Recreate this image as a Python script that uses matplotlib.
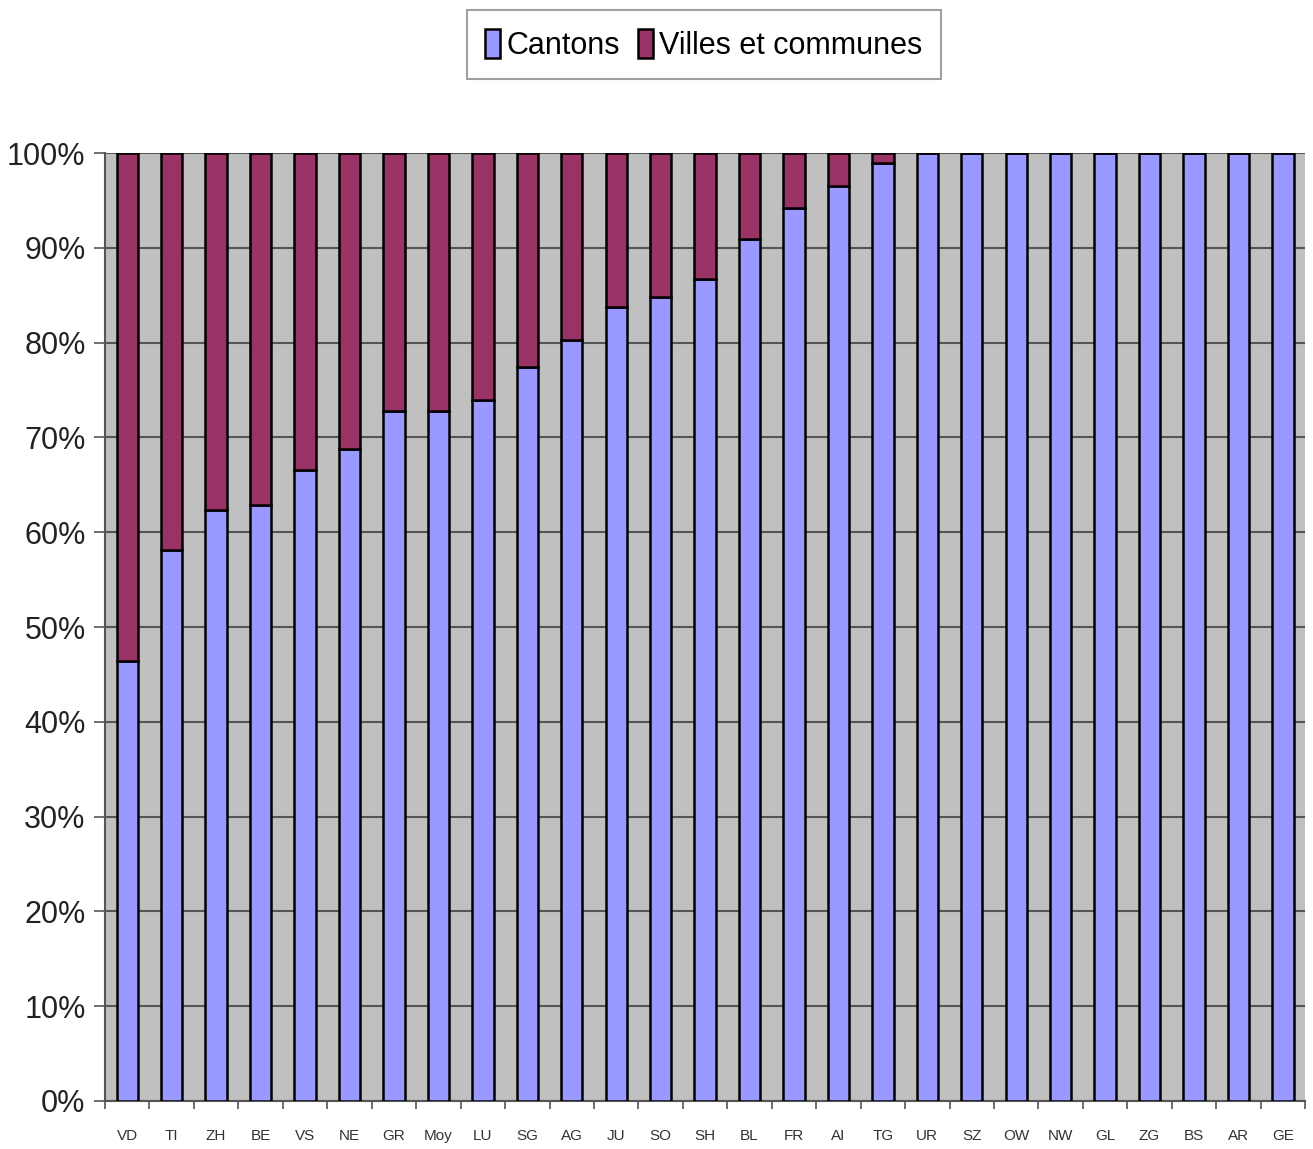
import matplotlib.pyplot as plt
import numpy as np

cantons = ['VD', 'TI', 'ZH', 'BE', 'VS', 'NE', 'GR', 'Moy', 'LU', 'SG', 'AG', 'JU', 'SO', 'SH',
           'BL', 'FR', 'AI', 'TG', 'UR', 'SZ', 'OW', 'NW', 'GL', 'ZG', 'BS', 'AR', 'GE']
part_cantons = [46.4, 58.1, 62.3, 62.9, 66.6, 68.8, 72.8, 72.8, 74.0, 77.4, 80.3, 83.8, 84.8, 86.7,
                90.9, 94.2, 96.5, 99.0, 100, 100, 100, 100, 100, 100, 100, 100, 100]
part_communes = [100 - v for v in part_cantons]

plt.rcParams['font.family'] = ['Liberation Sans Narrow', 'Liberation Sans', 'DejaVu Sans']

fig = plt.figure(figsize=(13.13, 11.49), dpi=100)
ax = fig.add_axes([0.080, 0.0418, 0.914, 0.825])
ax.set_facecolor('#c0c0c0')

x = np.arange(len(cantons))
w = 0.48
b1 = ax.bar(x, part_cantons, w, color='#9999ff', edgecolor='black', linewidth=1.8,
            label='Cantons', zorder=3)
b2 = ax.bar(x, part_communes, w, bottom=part_cantons, color='#993366', edgecolor='black',
            linewidth=1.8, label='Villes et communes', zorder=3)

ax.set_xlim(-0.5, len(cantons) - 0.5)
ax.set_ylim(0, 100)
ax.set_yticks(np.arange(0, 101, 10))
ax.set_yticklabels([f'{v}%' for v in range(0, 101, 10)], fontsize=22, color='#222222')
ax.yaxis.grid(True, color='#555555', linewidth=1.5, zorder=1)
ax.set_axisbelow(True)

ax.set_xticks(x)
ax.set_xticklabels(cantons, fontsize=11, color='#333333')
ax.set_xticks(np.arange(-0.5, len(cantons), 1), minor=True)
ax.tick_params(axis='x', which='major', length=0, pad=20)
ax.tick_params(axis='x', which='minor', length=6, width=1.2, color='#555555')
ax.tick_params(axis='y', length=8, width=1.2, color='#555555', pad=6)

for side in ['top', 'right']:
    ax.spines[side].set_visible(False)
ax.spines['left'].set_color('#555555')
ax.spines['left'].set_linewidth(1.5)
ax.spines['bottom'].set_color('#555555')
ax.spines['bottom'].set_linewidth(1.5)

leg = fig.legend(handles=[b1, b2], loc='center', bbox_to_anchor=(0.536, 0.961), ncol=2,
                 fontsize=22, frameon=True, fancybox=False, edgecolor='#888888',
                 handlelength=0.5, handleheight=1.1, handletextpad=0.2, columnspacing=0.6,
                 borderpad=0.6)
leg.get_frame().set_linewidth(1.5)

fig.savefig('out.png', dpi=100)
